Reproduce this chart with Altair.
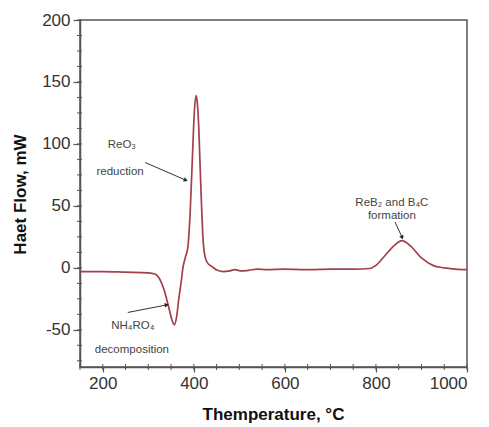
import altair as alt
import pandas as pd

# DSC curve
temp = [150, 200, 250, 300, 315, 325, 335, 345, 352, 357, 362, 367, 372, 376, 381, 387,
        392, 397, 401, 405, 408, 411, 414, 417, 420, 424, 430, 440, 452, 465, 478, 490, 505,
        520, 540, 560, 600, 650, 700, 750, 787, 800, 820, 840, 857, 875, 900, 925, 950,
        975, 1000]
flow = [-3, -3, -3.5, -4, -5, -9, -18, -32, -42, -46, -40, -25, -12, 0, 8, 17,
        45, 90, 125, 139, 132, 112, 80, 50, 25, 10, 4, 1, -2, -3, -2.5, -1.5, -2.5,
        -2, -1, -1.5, -1, -1.5, -1, -1, -0.5, 2, 10, 18, 22, 18, 8, 2, 0,
        -1, -1.5]

y_major = [-50, 0, 50, 100, 150, 200]
x_major = [200, 400, 600, 800, 1000]
y_minor = [v * 12.5 for v in range(-6, 17)]
x_minor = [v * 50 for v in range(3, 21)]

# annotations: text label positions (data coords)
ann_text = ["ReO\u2083", "reduction", "NH\u2084RO\u2084", "decomposition",
            "ReB\u2082 and B\u2084C", "formation"]
ann_x = [242, 238, 266, 264, 835, 835]
ann_y = [99, 77, -47, -66, 52, 42]

arrow_x1 = [293, 255, 842]
arrow_y1 = [85, -36, 37]
arrow_x2 = [381, 339, 857]
arrow_y2 = [71, -30, 25]
arrow_ang = [112, 78, 155]

df = pd.DataFrame({"t": temp, "f": flow})
xs = alt.Scale(domain=[150, 1000], nice=False)
ys = alt.Scale(domain=[-80, 200], nice=False)

lab_expr = "datum.value < 0 ? '-' + abs(datum.value) : '' + datum.value"
axis_common = dict(labelFont="Liberation Sans", labelFontSize=17, labelColor="#333",
                   titleFont="Liberation Sans", titleFontSize=17, titleFontWeight="bold",
                   titleColor="#111", domainColor="#555", domainWidth=1.5,
                   tickColor="#555", tickWidth=1.2, grid=False, labelExpr=lab_expr)

line = alt.Chart(df).mark_line(color="#a3404d", strokeWidth=1.7, interpolate="monotone").encode(
    x=alt.X("t:Q", scale=xs, axis=alt.Axis(values=x_major, tickSize=5, labelPadding=3,
            title="Themperature, \u00b0C", titleX=193, titleY=47, titleBaseline="middle",
            **axis_common)),
    y=alt.Y("f:Q", scale=ys, axis=alt.Axis(values=y_major, tickSize=7, labelPadding=3,
            title="Haet Flow, mW", titleX=-60, titleY=174, titleAlign="center",
            titleBaseline="middle", **axis_common)),
)

ytick = alt.Chart(pd.DataFrame({"v": y_minor})).mark_rule(color="#555", strokeWidth=1).encode(
    y=alt.Y("v:Q", scale=ys), x=alt.value(-3), x2=alt.value(2))
xtick = alt.Chart(pd.DataFrame({"v": x_minor})).mark_rule(color="#555", strokeWidth=1).encode(
    x=alt.X("v:Q", scale=xs), y=alt.value(344), y2=alt.value(350))

tdf = pd.DataFrame({"x": ann_x, "y": ann_y, "s": ann_text})
texts = alt.Chart(tdf).mark_text(font="Liberation Sans", fontSize=11.5, color="#444").encode(
    x=alt.X("x:Q", scale=xs), y=alt.Y("y:Q", scale=ys), text="s:N")

adf = pd.DataFrame({"x1": arrow_x1, "y1": arrow_y1, "x2": arrow_x2, "y2": arrow_y2, "a": arrow_ang})
shafts = alt.Chart(adf).mark_rule(color="#333", strokeWidth=1).encode(
    x=alt.X("x1:Q", scale=xs), y=alt.Y("y1:Q", scale=ys), x2="x2:Q", y2="y2:Q")
heads = alt.Chart(adf).mark_point(shape="triangle", filled=True, color="#222", size=22, opacity=1).encode(
    x=alt.X("x2:Q", scale=xs), y=alt.Y("y2:Q", scale=ys), angle=alt.Angle("a:Q", scale=None))

chart = alt.layer(line, ytick, xtick, shafts, heads, texts).properties(
    width=387, height=347, autosize="none",
    padding={"left": 72, "top": 12, "right": 14, "bottom": 60},
).configure_view(stroke="#555", strokeWidth=1.5)

chart.save("out.html", embed_options={"renderer": "svg", "actions": False})
